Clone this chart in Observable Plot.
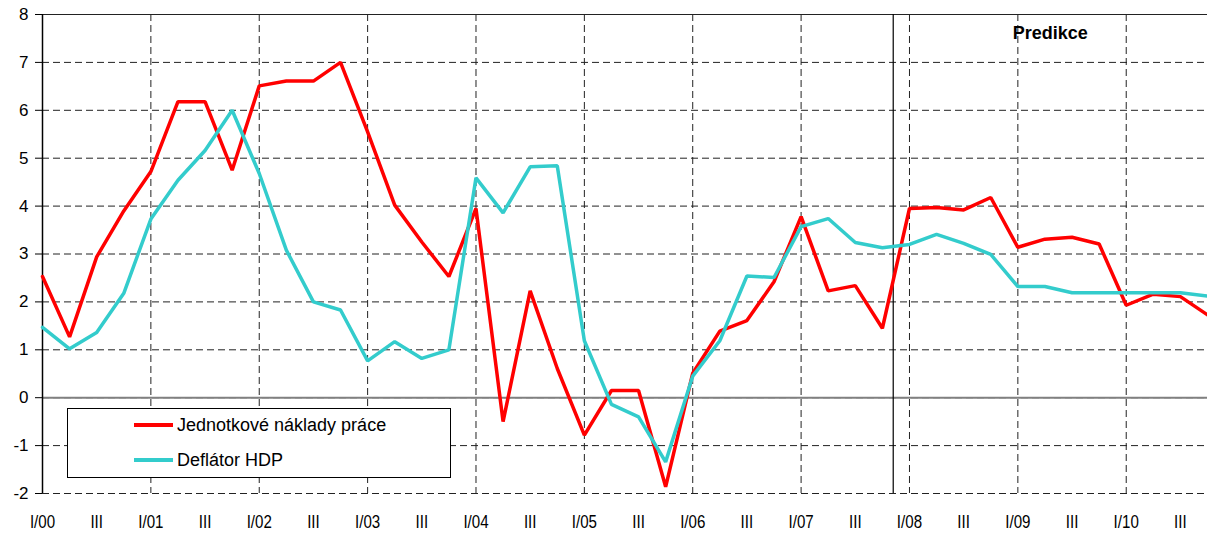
<!DOCTYPE html>
<html>
<head>
<meta charset="utf-8">
<script src="https://cdn.jsdelivr.net/npm/d3@7"></script>
<script src="https://cdn.jsdelivr.net/npm/@observablehq/plot@0.6"></script>
<style>
  html, body { margin: 0; padding: 0; background: #fff; }
  #wrap { position: relative; width: 1207px; height: 535px; font-family: Arial, "Liberation Sans", sans-serif; }
  #legend {
    position: absolute; left: 67px; top: 408px; width: 384px; height: 70px;
    border: 1px solid #000; background: #fff; box-sizing: border-box;
    font-size: 18px; color: #000;
  }
  .row { position: absolute; left: 0; height: 20px; display: flex; align-items: center; }
  .swatch { display: inline-block; width: 39px; height: 4px; margin-left: 66px; margin-right: 4px; }
</style>
</head>
<body>
<div id="wrap"></div>
<script>
// Quarterly data I/00 .. IV/10 (y/y growth, %)
const seriesNames = ["Jednotkové náklady práce", "Deflátor HDP"];
const seriesColors = ["#ff0000", "#33cccc"];
const unitLaborCosts = [
  2.53, 1.27, 2.94, 3.9, 4.72, 6.18, 6.18, 4.75,
  6.51, 6.61, 6.61, 7.0, 5.55, 4.02, 3.25, 2.53,
  3.95, -0.5, 2.23, 0.61, -0.78, 0.15, 0.15, -1.86,
  0.51, 1.39, 1.61, 2.42, 3.78, 2.23, 2.34, 1.45,
  3.95, 3.97, 3.92, 4.18, 3.14, 3.31, 3.35, 3.21,
  1.93, 2.16, 2.11, 1.73
];
const gdpDeflator = [
  1.47, 1.02, 1.36, 2.18, 3.73, 4.54, 5.16, 6.0,
  4.68, 3.08, 2.0, 1.83, 0.77, 1.17, 0.82, 1.0,
  4.59, 3.86, 4.82, 4.84, 1.19, -0.14, -0.4, -1.34,
  0.45, 1.19, 2.54, 2.51, 3.57, 3.74, 3.24, 3.13,
  3.2, 3.41, 3.22, 2.99, 2.32, 2.32, 2.19, 2.19,
  2.19, 2.19, 2.19, 2.12
];
const tickLabels = [
  "I/00", "III", "I/01", "III", "I/02", "III", "I/03", "III", "I/04", "III", "I/05", "III",
  "I/06", "III", "I/07", "III", "I/08", "III", "I/09", "III", "I/10", "III"
];
const yTicks = [-2, -1, 0, 1, 2, 3, 4, 5, 6, 7, 8];
const predictionStart = 31.4;   // boundary between data and forecast (quarter index)
const predictionLabel = {x: 37.2, y: 7.6, text: "Predikce"};

const tickPositions = tickLabels.map((_, i) => i * 2);
const yearPositions = tickPositions.filter(p => p % 4 === 0 && p > 0);
const rows = [];
unitLaborCosts.forEach((v, i) => rows.push({q: i, v, s: seriesNames[0]}));
gdpDeflator.forEach((v, i) => rows.push({q: i, v, s: seriesNames[1]}));

const chart = Plot.plot({
  width: 1207,
  height: 535,
  marginLeft: 42,
  marginRight: 0,
  marginTop: 14,
  marginBottom: 42,
  style: {fontFamily: "Arial, 'Liberation Sans', sans-serif", fontSize: "17px", color: "#000", background: "#fff", overflow: "visible"},
  x: {domain: [0, unitLaborCosts.length - 1], axis: null},
  y: {domain: [d3.min(yTicks), d3.max(yTicks)], axis: null},
  color: {domain: seriesNames, range: seriesColors},
  marks: [
    Plot.gridY(yTicks, {stroke: "#222", strokeOpacity: 1, strokeDasharray: "7,4"}),
    Plot.gridX(yearPositions, {stroke: "#222", strokeOpacity: 1, strokeDasharray: "7,4"}),
    Plot.ruleY([0], {stroke: "#808080", strokeWidth: 2}),
    Plot.ruleY([d3.max(yTicks)], {stroke: "#222", strokeWidth: 1.2}),
    Plot.ruleX([predictionStart], {stroke: "#000", strokeWidth: 1.2}),
    Plot.ruleX([0], {stroke: "#000", strokeWidth: 1.5}),
    Plot.line(rows, {x: "q", y: "v", z: "s", stroke: "s", strokeWidth: 3.5, strokeLinejoin: "miter"}),
    Plot.axisY({ticks: yTicks, tickSize: 7, tickPadding: 7, tickFormat: d => String(d), fontSize: 17, stroke: "#000"}),
    Plot.axisX({ticks: tickPositions, tickFormat: (d) => tickLabels[d / 2], tickSize: 0, tickPadding: 22, fontSize: 18}),
    Plot.text([predictionLabel], {x: "x", y: "y", text: "text", fontWeight: "bold", fontSize: 18, fill: "#000"})
  ]
});

// condensed look of the quarter labels
chart.querySelectorAll('g[aria-label="x-axis tick label"] text').forEach(t => {
  const tr = t.getAttribute("transform") || "";
  t.setAttribute("transform", tr + " scale(0.84,1)");
});

const wrap = document.getElementById("wrap");
wrap.appendChild(chart);

const legend = document.createElement("div");
legend.id = "legend";
seriesNames.forEach((name, i) => {
  const row = document.createElement("div");
  row.className = "row";
  row.style.top = (i === 0 ? 6 : 41) + "px";
  const sw = document.createElement("span");
  sw.className = "swatch";
  sw.style.background = seriesColors[i];
  const label = document.createElement("span");
  label.textContent = name;
  row.appendChild(sw);
  row.appendChild(label);
  legend.appendChild(row);
});
wrap.appendChild(legend);
</script>
</body>
</html>
